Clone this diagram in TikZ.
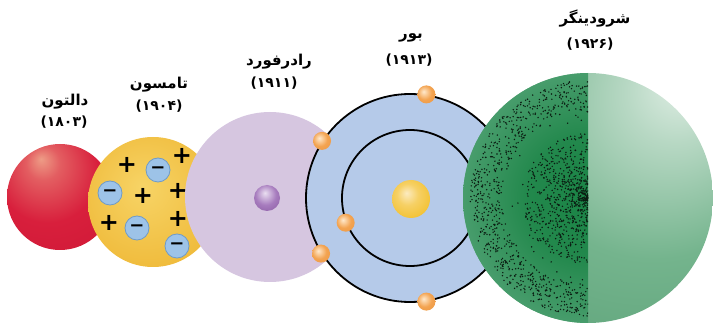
\documentclass[tikz,border=0pt]{standalone}
\usepackage{fontspec}
\newfontfamily\farsi[Script=Arabic]{DejaVu Sans}
\newfontfamily\signfont{DejaVu Sans}
\TeXXeTstate=1

\definecolor{daltonhi}{HTML}{EE9C86}
\definecolor{daltonred}{HTML}{D81F3C}
\definecolor{daltondeep}{HTML}{C41030}
\definecolor{thomsonhi}{HTML}{F7D466}
\definecolor{thomsongold}{HTML}{EDB22C}
\definecolor{thomsondeep}{HTML}{E2A01E}
\definecolor{minusblue}{HTML}{9DC3E8}
\definecolor{minusedge}{HTML}{6E9BC9}
\definecolor{ruthlilac}{HTML}{D6C6E0}
\definecolor{purplehi}{HTML}{EADFF1}
\definecolor{purplemid}{HTML}{A77CBE}
\definecolor{purpledeep}{HTML}{7C4C96}
\definecolor{bohrblue}{HTML}{B5CAE9}
\definecolor{goldhi}{HTML}{FCEBC0}
\definecolor{goldmid}{HTML}{F3C234}
\definecolor{golddeep}{HTML}{E09C0E}
\definecolor{orangehi}{HTML}{FFE9CC}
\definecolor{orangemid}{HTML}{F3A350}
\definecolor{orangedeep}{HTML}{D97A22}
\definecolor{greenhi}{HTML}{E4F0E8}
\definecolor{greenmid}{HTML}{74B48D}
\definecolor{greendeep}{HTML}{3A885A}
\definecolor{cloudcore}{HTML}{1B8446}
\definecolor{cloudmid}{HTML}{4A9E6E}
\definecolor{cloudrim}{HTML}{6CAE88}
\definecolor{clouddot}{HTML}{0B1C12}

\pgfdeclareradialshading{daltonshade}{\pgfpoint{-9bp}{18bp}}{color(0bp)=(daltonhi); color(8bp)=(daltonhi!50!daltonred); color(24bp)=(daltonred); color(70bp)=(daltondeep)}
\pgfdeclareradialshading{thomsonshade}{\pgfpoint{-4bp}{6bp}}{color(0bp)=(thomsonhi); color(20bp)=(thomsonhi!50!thomsongold); color(40bp)=(thomsongold); color(60bp)=(thomsondeep)}
\pgfdeclareradialshading{purpleshade}{\pgfpoint{-4bp}{10bp}}{color(0bp)=(purplehi); color(20bp)=(purplemid); color(48bp)=(purpledeep); color(62bp)=(purpledeep)}
\pgfdeclareradialshading{goldshade}{\pgfpoint{-6bp}{8bp}}{color(0bp)=(goldhi); color(14bp)=(goldhi!35!goldmid); color(30bp)=(goldmid); color(56bp)=(golddeep)}
\pgfdeclareradialshading{electronshade}{\pgfpoint{-8bp}{8bp}}{color(0bp)=(orangehi); color(20bp)=(orangemid); color(42bp)=(orangemid!70!orangedeep); color(60bp)=(orangedeep)}
\pgfdeclareradialshading{greenshade}{\pgfpoint{20bp}{24bp}}{color(0bp)=(greenhi); color(10bp)=(greenhi!60!greenmid); color(28bp)=(greenmid); color(52bp)=(greenmid!50!greendeep); color(82bp)=(greendeep)}
\pgfdeclareradialshading{cloudshade}{\pgfpoint{0bp}{0bp}}{color(0bp)=(cloudcore); color(12bp)=(cloudcore!85!cloudmid); color(26bp)=(cloudmid); color(40bp)=(cloudrim); color(50bp)=(cloudmid)}

\tikzset{
  atom/.style={circle,inner sep=0pt,draw=none},
  poscharge/.style={inner sep=0pt,font=\signfont\bfseries\fontsize{24bp}{24bp}\selectfont},
  negcharge/.style={circle,inner sep=0pt,minimum size=24bp,fill=minusblue,draw=minusedge,line width=0.8bp,font=\signfont\bfseries\fontsize{18bp}{18bp}\selectfont},
  electron/.style={atom,minimum size=18bp,shading=electronshade},
  orbit/.style={circle,inner sep=0pt,draw=black,line width=1.8bp},
  modelname/.style={inner sep=0pt,font=\farsi\bfseries\fontsize{15bp}{17bp}\selectfont},
  modelyear/.style={inner sep=0pt,font=\farsi\bfseries\fontsize{14bp}{16bp}\selectfont},
  cloud/.style={fill=clouddot},
}

\begin{document}
\begin{tikzpicture}
\useasboundingbox (0bp,0bp) rectangle (713bp,325bp);
%% Dalton
\node (dalton) at (60bp,128bp) [atom,minimum size=106bp,shading=daltonshade] {};
%% Thomson
\node (thomson) at (153bp,123bp) [atom,minimum size=130bp,shading=thomsonshade] {};
\node (p1) at (127bp,160bp) [poscharge] {+};
\node (p2) at (182bp,169bp) [poscharge] {+};
\node (p3) at (143bp,129bp) [poscharge] {+};
\node (p4) at (178bp,134bp) [poscharge] {+};
\node (p5) at (109bp,102bp) [poscharge] {+};
\node (p6) at (178bp,106bp) [poscharge] {+};
\node (m1) at (158bp,155bp) [negcharge] {−};
\node (m2) at (110bp,132bp) [negcharge] {−};
\node (m3) at (137bp,97bp) [negcharge] {−};
\node (m4) at (177bp,79bp) [negcharge] {−};
%% Rutherford
\node (rutherford) at (270bp,128bp) [atom,minimum size=170bp,fill=ruthlilac] {};
\node (ruthcore) at (267bp,127bp) [atom,minimum size=26bp,shading=purpleshade] {};
%% Bohr
\node (bohr) at (410bp,127bp) [orbit,minimum size=208bp,fill=bohrblue] {};
\node (inner) at (410bp,127bp) [orbit,minimum size=136bp] {};
\node (bohrcore) at (411bp,126bp) [atom,minimum size=38bp,shading=goldshade] {};
\node (e1) at (bohr.81) [electron] {};
\node (e2) at (bohr.147) [electron] {};
\node (e3) at (bohr.212) [electron] {};
\node (e4) at (bohr.279) [electron] {};
\node (e5) at (inner.201) [electron] {};
%% Schroedinger
\node (schrodinger) at (588bp,127bp) [atom,minimum size=250bp,shading=greenshade] {};
\begin{scope}
  \clip (460bp,0bp) rectangle (588bp,325bp);
  \shade[shading=cloudshade] (schrodinger.center) circle (125bp);
  \begin{scope}[shift={(schrodinger.center)}]
    \pgfmathsetseed{1926}
    % core of the cloud
    \foreach \i in {1,...,700}{
      \pgfmathsetmacro\ang{90+180*rnd}
      \pgfmathsetmacro\rad{66*rnd}
      \fill[cloud] (\ang:\rad bp) circle (0.8bp);
    }
    % outer shell
    \foreach \i in {1,...,700}{
      \pgfmathsetmacro\ang{90+180*rnd}
      \pgfmathsetmacro\rad{sqrt(86*86+rnd*(118*118-86*86))}
      \fill[cloud] (\ang:\rad bp) circle (0.8bp);
    }
    % scattered
    \foreach \i in {1,...,110}{
      \pgfmathsetmacro\ang{90+180*rnd}
      \pgfmathsetmacro\rad{118*sqrt(rnd)}
      \fill[cloud] (\ang:\rad bp) circle (0.8bp);
    }
  \end{scope}
\end{scope}
%% names and years
\node (daltonname) at (65bp,223bp) [modelname] {\beginR دالتون\endR};
\node (daltonyear) at (64bp,203bp) [modelyear] {(۱۸۰۳)};
\node (thomsonname) at (159bp,240bp) [modelname] {\beginR تامسون\endR};
\node (thomsonyear) at (159bp,219bp) [modelyear] {(۱۹۰۴)};
\node (rutherfordname) at (279bp,263bp) [modelname] {\beginR رادرفورد\endR};
\node (rutherfordyear) at (274bp,242bp) [modelyear] {(۱۹۱۱)};
\node (bohrname) at (411bp,287bp) [modelname] {\beginR بور\endR};
\node (bohryear) at (409bp,265bp) [modelyear] {(۱۹۱۳)};
\node (schrodingername) at (595bp,306bp) [modelname] {\beginR شرودینگر\endR};
\node (schrodingeryear) at (590bp,281bp) [modelyear] {(۱۹۲۶)};
%
\end{tikzpicture}
\end{document}
